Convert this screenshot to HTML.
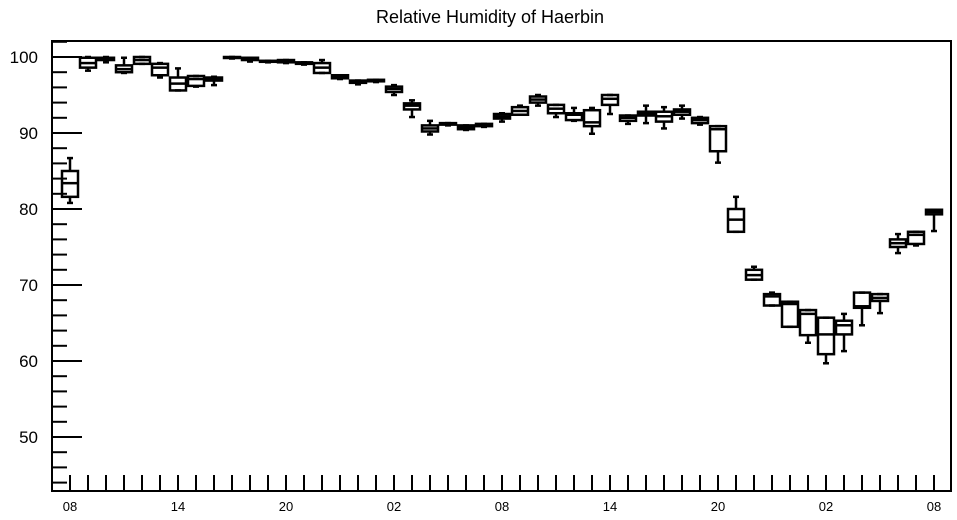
<!DOCTYPE html>
<html><head><meta charset="utf-8"><style>
body{margin:0;background:#fff}
svg{display:block;font-family:"Liberation Sans",sans-serif}
</style></head><body>
<svg id="chart" width="957" height="520" viewBox="0 0 957 520">
<text x="490" y="23" text-anchor="middle" font-size="18">Relative Humidity of Haerbin</text>
<g id="axes"></g><g id="boxes"></g>
</svg>
<script>
const hours=["08","09","10","11","12","13","14","15","16","17","18","19","20","21","22","23","00","01","02","03","04","05","06","07","08","09","10","11","12","13","14","15","16","17","18","19","20","21","22","23","00","01","02","03","04","05","06","07","08"];
const mins=[80.8,98.2,99.3,97.9,99.1,97.3,95.6,96.1,96.3,99.8,99.4,99.3,99.2,99.0,97.9,97.1,96.4,96.7,95.0,92.1,89.8,91.0,90.4,90.8,91.5,92.4,93.6,92.1,91.6,89.9,92.5,91.2,91.3,90.6,91.9,91.1,86.1,77.0,70.7,67.3,64.5,62.4,59.7,61.3,64.7,66.3,74.2,75.2,77.1];
const q1s=[81.6,98.6,99.6,98.0,99.1,97.6,95.6,96.2,96.9,99.9,99.6,99.4,99.3,99.1,97.9,97.2,96.6,96.8,95.4,93.1,90.2,91.1,90.5,90.9,91.9,92.4,94.0,92.6,91.7,90.9,93.7,91.6,92.3,91.5,92.4,91.3,87.6,77.0,70.7,67.3,64.5,63.4,60.9,63.5,67.0,67.9,75.0,75.4,79.3];
const meds=[83.4,99.2,99.8,98.4,99.6,98.6,96.5,97.1,97.1,99.95,99.8,99.45,99.45,99.2,98.6,97.4,96.75,96.9,95.8,93.6,90.6,91.2,90.8,91.0,92.2,92.9,94.4,93.2,92.4,91.4,94.5,92.0,92.6,92.2,92.8,91.7,90.5,78.6,71.3,68.5,67.5,66.2,63.5,64.7,67.2,68.3,75.5,76.6,79.6];
const q3s=[85.0,99.9,99.9,98.9,100,99.1,97.3,97.5,97.3,100,99.9,99.5,99.6,99.3,99.2,97.6,96.9,97.0,96.1,93.9,91.0,91.3,91.0,91.2,92.5,93.4,94.8,93.7,92.6,93.0,95.0,92.3,92.8,92.8,93.1,92.0,90.9,80.0,72.0,68.8,67.8,66.7,65.7,65.3,69.0,68.8,76.0,77.0,79.9];
const maxs=[86.7,100,100,99.9,100,99.2,98.5,97.5,97.4,100,99.9,99.5,99.6,99.3,99.6,97.6,96.9,97.0,96.3,94.3,91.6,91.3,91.0,91.2,92.6,93.6,95.0,93.7,93.3,93.3,95.0,92.3,93.6,93.4,93.6,92.1,90.9,81.6,72.4,69.0,67.8,66.7,65.7,66.2,69.0,68.8,76.7,77.0,79.9];
const yTicks=[50,60,70,80,90,100];
const NS="http://www.w3.org/2000/svg";
const L=52,R=951,T=41,B=491;
const x=i=>70+18*i;
const y=v=>57+(100-v)*7.6;
function el(tag,attrs,parent){const e=document.createElementNS(NS,tag);for(const k in attrs)e.setAttribute(k,attrs[k]);parent.appendChild(e);return e;}
const ax=document.getElementById('axes'),bx=document.getElementById('boxes');
const frame=el('rect',{x:L,y:T,width:R-L,height:B-T,fill:'none',stroke:'#000','stroke-width':2},ax);


for(let v=44;v<=102;v+=2){
  const major=v%10===0;
  const t=el('line',{x1:L,x2:L+(major?30:15),y1:y(v),y2:y(v),stroke:'#000','stroke-width':2},ax);
  
  
}
yTicks.forEach(v=>{
  const t=el('text',{x:38,y:y(v)+6,'text-anchor':'end','font-size':17},ax);t.textContent=v;
  
  
});
hours.forEach((h,i)=>{
  const t=el('line',{x1:x(i),x2:x(i),y1:B-16,y2:B,stroke:'#000','stroke-width':2},ax);
  
  
  if(i%6===0){
    const lb=el('text',{x:x(i),y:511,'text-anchor':'middle','font-size':13},ax);lb.textContent=h;
    
    
  }
});
hours.forEach((h,i)=>{
  const g=el('g',{stroke:'#000','stroke-width':2.5,fill:'none'},bx);
  
  
  const cx=x(i);
  el('line',{x1:cx,x2:cx,y1:y(maxs[i]),y2:y(q3s[i])},g);
  el('line',{x1:cx,x2:cx,y1:y(q1s[i]),y2:y(mins[i])},g);
  el('line',{x1:cx-3,x2:cx+3,y1:y(maxs[i]),y2:y(maxs[i])},g);
  el('line',{x1:cx-3,x2:cx+3,y1:y(mins[i]),y2:y(mins[i])},g);
  el('rect',{x:cx-8,y:y(q3s[i]),width:16,height:Math.max(1,y(q1s[i])-y(q3s[i]))},g);
  el('line',{x1:cx-8,x2:cx+8,y1:y(meds[i]),y2:y(meds[i])},g);
});
</script>
</body></html>
